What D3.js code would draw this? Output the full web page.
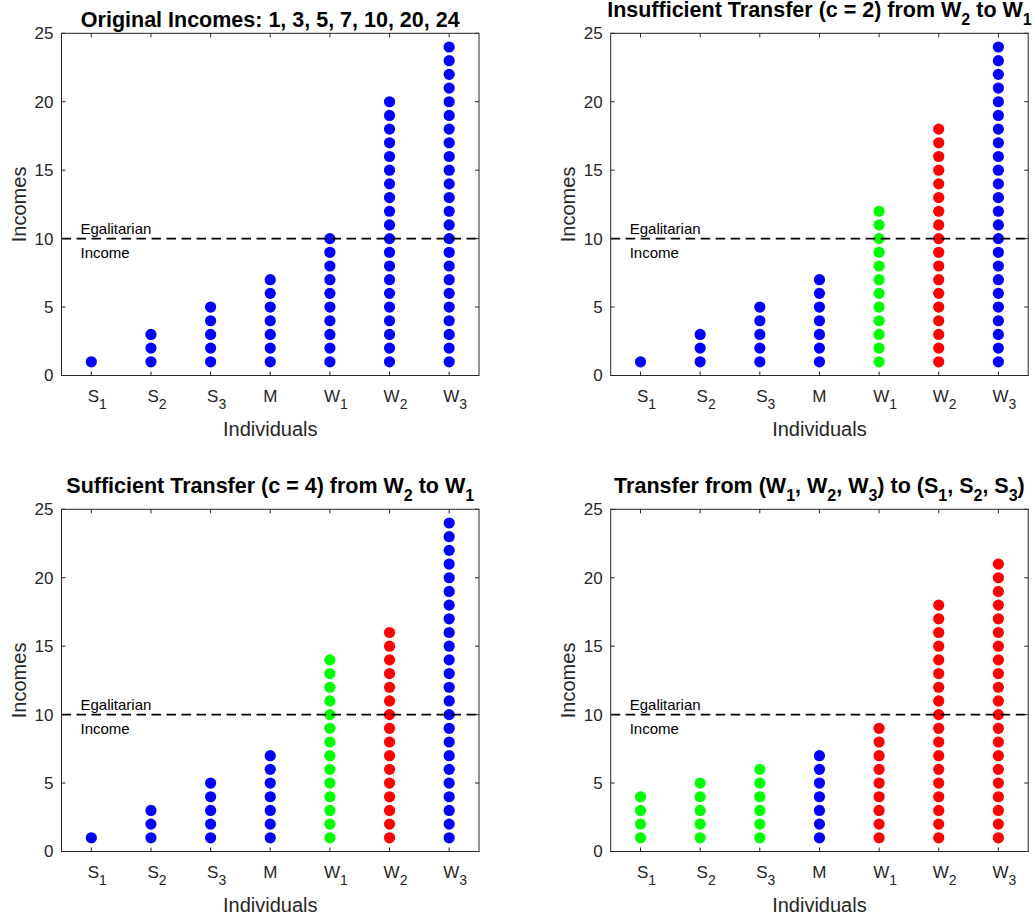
<!DOCTYPE html>
<html><head><meta charset="utf-8">
<script src="https://cdn.jsdelivr.net/npm/d3@7"></script>
<style>body{margin:0;background:#fff}svg{font-family:"Liberation Sans",Arial,Helvetica,sans-serif}</style>
</head><body><svg id="c" width="1035" height="919"></svg>
<script>
const categories = [["S","1"],["S","2"],["S","3"],["M",""],["W","1"],["W","2"],["W","3"]];
const incomes1 = [1,3,5,7,10,20,24];
const incomes2 = [1,3,5,7,12,18,24];
const incomes3 = [1,3,5,7,14,16,24];
const incomes4 = [4,5,6,7,9,18,21];
const colors1 = ["b","b","b","b","b","b","b"];
const colors2 = ["b","b","b","b","g","r","b"];
const colors3 = ["b","b","b","b","g","r","b"];
const colors4 = ["g","g","g","b","r","r","r"];
const yTicks = [0,5,10,15,20,25];
const egalitarian = 10;
const titles = [
  [["Original Incomes: 1, 3, 5, 7, 10, 20, 24",""]],
  [["Insufficient Transfer (c = 2) from W",""],["2","sub"],[" to W",""],["1","sub"]],
  [["Sufficient Transfer (c = 4) from W",""],["2","sub"],[" to W",""],["1","sub"]],
  [["Transfer from (W",""],["1","sub"],[", W",""],["2","sub"],[", W",""],["3","sub"],[") to (S",""],["1","sub"],[", S",""],["2","sub"],[", S",""],["3","sub"],[")",""]]
];
const palette = {b:"#0000ff", g:"#00ff00", r:"#ff0000"};
const panels = [
  {x:61.5, y:33.3, vals:incomes1, cols:colors1, title:titles[0]},
  {x:610.7, y:33.3, vals:incomes2, cols:colors2, title:titles[1]},
  {x:61.5, y:509.3, vals:incomes3, cols:colors3, title:titles[2]},
  {x:610.7, y:509.3, vals:incomes4, cols:colors4, title:titles[3]}
];
const W = 417.5, H = 342.2;
const svg = d3.select("#c");
const tc = "#262626";

panels.forEach(p => {
  const g = svg.append("g").attr("transform", `translate(${p.x},${p.y})`);
  const x = d3.scaleLinear().domain([0.5,7.5]).range([0,W]);
  const y = d3.scaleLinear().domain([0,25]).range([H,0]);
  // dots
  p.vals.forEach((v,i) => {
    const pts = d3.range(1, v+1);
    g.selectAll(null).data(pts).enter().append("circle")
      .attr("cx", x(i+1)).attr("cy", d => y(d)).attr("r", 5.6)
      .attr("fill", palette[p.cols[i]]);
  });
  // dashed line
  g.append("line").attr("x1",0).attr("x2",W).attr("y1",y(egalitarian)).attr("y2",y(egalitarian))
    .attr("stroke","#000").attr("stroke-width",1.8).attr("stroke-dasharray","9.5,5.5");
  g.append("text").attr("x",19).attr("y",y(egalitarian)-4.7).attr("font-size",15).attr("fill","#000").text("Egalitarian");
  g.append("text").attr("x",19).attr("y",y(egalitarian)+19).attr("font-size",15).attr("fill","#000").text("Income");
  // box
  g.append("rect").attr("width",W).attr("height",H).attr("fill","none").attr("stroke",tc).attr("stroke-width",1);
  // y ticks
  yTicks.forEach(t => {
    g.append("line").attr("x1",0).attr("x2",4).attr("y1",y(t)).attr("y2",y(t)).attr("stroke",tc);
    g.append("line").attr("x1",W).attr("x2",W-4).attr("y1",y(t)).attr("y2",y(t)).attr("stroke",tc);
    g.append("text").attr("x",-8).attr("y",y(t)+6).attr("text-anchor","end").attr("font-size",17).attr("fill",tc).text(t);
  });
  // x ticks
  categories.forEach((c,i) => {
    const xx = x(i+1);
    g.append("line").attr("x1",xx).attr("x2",xx).attr("y1",H).attr("y2",H-4).attr("stroke",tc);
    g.append("line").attr("x1",xx).attr("x2",xx).attr("y1",0).attr("y2",4).attr("stroke",tc);
    const t = g.append("text").attr("x",xx + (c[1]?6:0)).attr("y",H+27).attr("text-anchor","middle").attr("font-size",17).attr("fill",tc);
    t.append("tspan").text(c[0]);
    if (c[1]) t.append("tspan").attr("dy",7).attr("font-size",14).text(c[1]);
  });
  g.append("text").attr("x",W/2).attr("y",H+61).attr("text-anchor","middle").attr("font-size",20).attr("fill",tc).text("Individuals");
  g.append("text").attr("transform",`translate(-36,${H/2}) rotate(-90)`).attr("text-anchor","middle").attr("font-size",20).attr("fill",tc).text("Incomes");
  // title
  const hasSub = p.title.some(d => d[1]==="sub");
  const tt = g.append("text").attr("x",W/2).attr("y", hasSub ? -16.5 : -6.6).attr("text-anchor","middle").attr("font-size",21.5).attr("font-weight","bold").attr("fill","#000");
  let sub = false;
  p.title.forEach(([s,k]) => {
    const ts = tt.append("tspan").text(s);
    if (k==="sub" && !sub) { ts.attr("dy",8).attr("font-size",16); sub = true; }
    else if (k==="sub") { ts.attr("font-size",16); }
    else if (sub) { ts.attr("dy",-8); sub = false; }
  });
});
</script></body></html>
